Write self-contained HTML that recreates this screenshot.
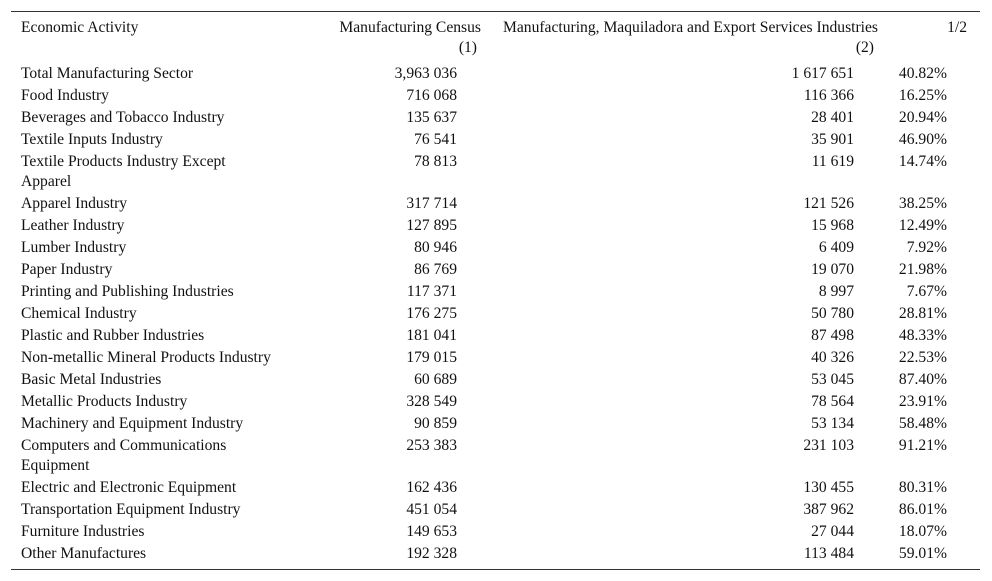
<!DOCTYPE html>
<html><head><meta charset="utf-8"><style>
body{margin:0;width:992px;height:581px;background:#fff;font-family:"Liberation Serif",serif;font-size:15.6px;color:#111;position:relative;overflow:hidden}
.ln{position:absolute;left:11px;width:969px;height:1px;background:#333}
.c{position:absolute;line-height:20px;white-space:nowrap}
.a{left:21px}
.b{right:535px;text-align:right}
.d{right:138px;text-align:right}
.e{right:45px;text-align:right}
</style></head><body>
<div class="ln" style="top:11px"></div>
<div class="ln" style="top:569px"></div>
<div class="c" style="left:21px;top:18px">Economic Activity</div>
<div class="c" style="right:511px;top:18px;text-align:right">Manufacturing Census<br><span style="margin-right:4px">(1)</span></div>
<div class="c" style="right:114px;top:18px;text-align:right">Manufacturing, Maquiladora and Export Services Industries<br><span style="margin-right:4px">(2)</span></div>
<div class="c" style="right:25px;top:18px">1/2</div>
<script>
const names=["Total Manufacturing Sector","Food Industry","Beverages and Tobacco Industry","Textile Inputs Industry","Textile Products Industry Except\nApparel","Apparel Industry","Leather Industry","Lumber Industry","Paper Industry","Printing and Publishing Industries","Chemical Industry","Plastic and Rubber Industries","Non-metallic Mineral Products Industry","Basic Metal Industries","Metallic Products Industry","Machinery and Equipment Industry","Computers and Communications\nEquipment","Electric and Electronic Equipment","Transportation Equipment Industry","Furniture Industries","Other Manufactures"];
const census=["3,963 036","716 068","135 637","76 541","78 813","317 714","127 895","80 946","86 769","117 371","176 275","181 041","179 015","60 689","328 549","90 859","253 383","162 436","451 054","149 653","192 328"];
const maq=["1 617 651","116 366","28 401","35 901","11 619","121 526","15 968","6 409","19 070","8 997","50 780","87 498","40 326","53 045","78 564","53 134","231 103","130 455","387 962","27 044","113 484"];
const pct=["40.82%","16.25%","20.94%","46.90%","14.74%","38.25%","12.49%","7.92%","21.98%","7.67%","28.81%","48.33%","22.53%","87.40%","23.91%","58.48%","91.21%","80.31%","86.01%","18.07%","59.01%"];
let y=64;
names.forEach((n,i)=>{
  [["a",n,"row-label"],["b",census[i],"census-value"],["d",maq[i],"maquiladora-value"],["e",pct[i],"ratio-value"]].forEach(([cl,t,nm])=>{
    const el=document.createElement('div');
    el.className='c '+cl;el.style.top=y+'px';
    el.style.whiteSpace='pre';
    el.textContent=t;
    
    
    document.body.appendChild(el);
  });
  y+=n.includes('\n')?42:22;
});
</script>
</body></html>
